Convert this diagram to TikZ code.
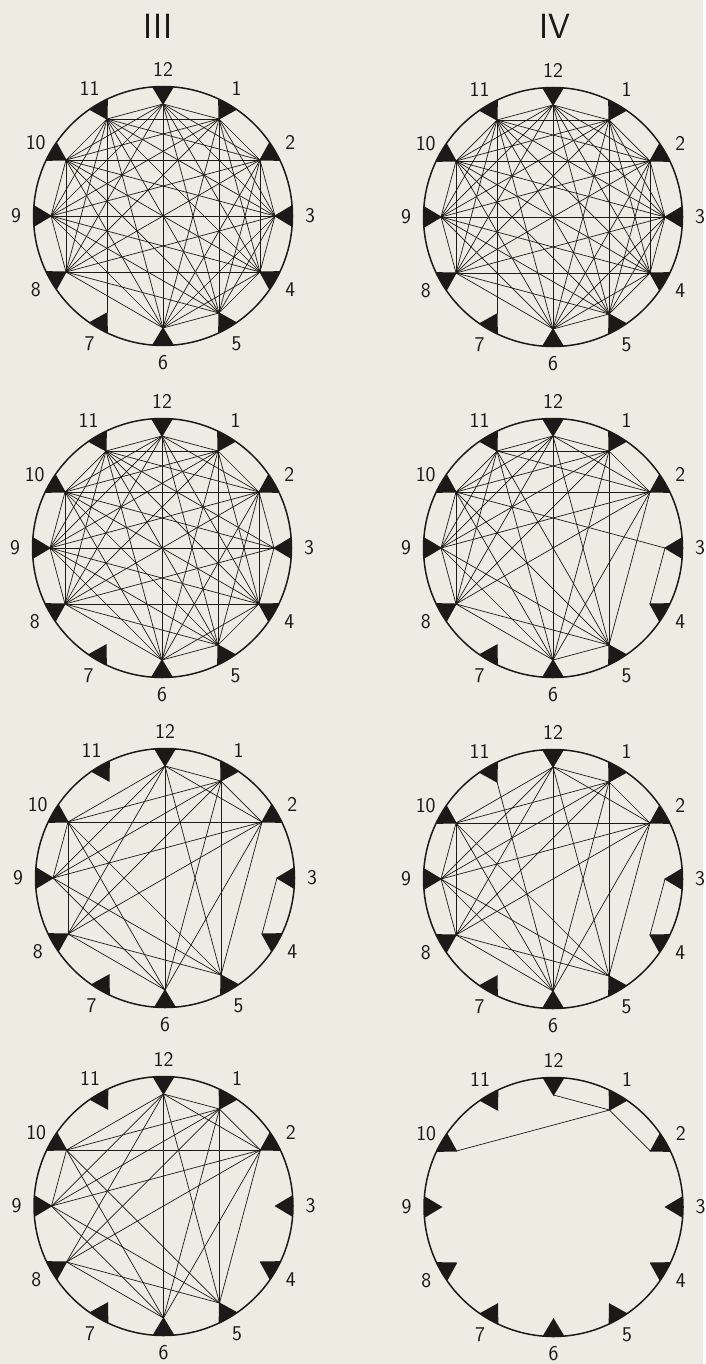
\documentclass[tikz,border=0pt]{standalone}
\usepackage{tikz}
\usetikzlibrary{calc}

\definecolor{paper}{RGB}{238,235,227}
\definecolor{ink}{RGB}{28,26,24}

% one clock face: name, centre
\newcommand{\dial}[2]{%
  \begin{scope}[shift={#2}]
    \draw[rim] (0,0) circle[radius=129.5];
    \foreach \h [evaluate=\h as \ang using 90-30*\h] in {1,...,12}{
      \coordinate (#1-\h) at (\ang:112);
      \fill[notch] (\ang:111) -- (\ang-4.8:129.5)
        arc[start angle=\ang-4.8, end angle=\ang+4.8, radius=129.5] -- cycle;
      \node[num] (#1-n\h) at (\ang:147) {\h};
    }
  \end{scope}}
% all pairs of a list
\newcommand{\full}[2]{%
  \foreach \a [count=\i] in {#2}{
    \foreach \b [count=\j] in {#2}{
      \ifnum\j>\i\relax \draw[chord] (#1-\a) -- (#1-\b); \fi
    }}}
\newcommand{\links}[2]{\foreach \a/\b in {#2}{\draw[chord] (#1-\a) -- (#1-\b);}}

\begin{document}
\begin{tikzpicture}[
   x=1pt, y=1pt,
   rim/.style={draw=ink, line width=1.5pt},
   notch/.style={fill=ink},
   chord/.style={draw=ink, line width=0.7pt},
   num/.style={font=\sffamily\fontsize{21}{24}\selectfont, text=ink, inner sep=0pt},
   head/.style={font=\sffamily\fontsize{35}{38}\selectfont, text=ink, inner sep=0pt}
]
\fill[paper] (0,0) rectangle (703,-1364);

\node[head] (h3) at (158,-26) {III};
\node[head] (h4) at (555,-26) {IV};

% row 1
\dial{d1l}{(163,-216)}
\full{d1l}{12,1,2,3,4,5,6,8,9,10,11}
\links{d1l}{11/7}
\dial{d1r}{(553,-217)}
\full{d1r}{12,1,2,3,4,5,6,8,9,10,11}
\links{d1r}{11/7}

% row 2
\dial{d2l}{(162,-548)}
\full{d2l}{12,1,2,4,5,6,8,9,10,11}
\links{d2l}{3/2,3/4,3/8,3/9,3/10,3/11}
\dial{d2r}{(553,-548)}
\full{d2r}{12,1,2,5,6,8,9,10,11}
\links{d2r}{3/4,3/10}

% row 3
\dial{d3l}{(165,-878)}
\links{d3l}{12/1,12/2,1/2,12/10,12/9,12/8,12/6,12/5,1/10,1/9,1/8,1/6,1/5,
  2/10,2/9,2/8,2/6,2/5,10/9,10/6,10/5,9/6,9/5,8/6,8/5,10/8,3/4}
\dial{d3r}{(553,-879)}
\links{d3r}{12/1,12/2,1/2,12/10,12/9,12/8,12/6,12/5,1/10,1/9,1/8,1/6,1/5,
  2/10,2/9,2/8,2/6,2/5,10/9,10/6,10/5,9/6,9/5,8/6,8/5,10/8,9/8,11/6,3/4}

% row 4
\dial{d4l}{(163.5,-1206)}
\links{d4l}{12/1,12/2,1/2,12/10,12/9,12/8,12/6,12/5,1/10,1/9,1/8,1/6,1/5,
  2/10,2/9,2/8,2/6,2/5,10/9,10/6,10/5,9/6,9/5,8/6,8/5}
\dial{d4r}{(553.5,-1207)}
\links{d4r}{12/1,1/2,1/10}
\end{tikzpicture}
\end{document}
